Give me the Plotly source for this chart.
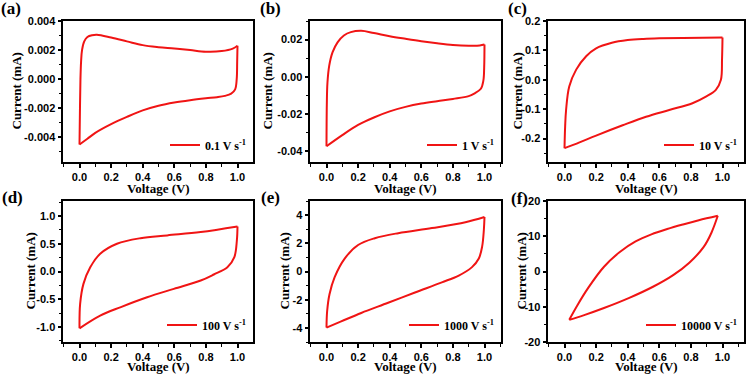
import plotly.graph_objects as go

W, H = 746, 374

# ---------------- data ----------------
rates = ["0.1", "1", "10", "100", "1000", "10000"]
panel_labels = ["(a)", "(b)", "(c)", "(d)", "(e)", "(f)"]
x_title = "Voltage (V)"
y_title = "Current (mA)"

V_a_up = [0.0, 0.003, 0.006, 0.01, 0.016, 0.03, 0.05, 0.08, 0.11, 0.2, 0.3, 0.4, 0.5, 0.6, 0.7, 0.8, 0.9, 0.97, 1.0]
I_a_up = [-0.0045, -0.002, 0.0, 0.0012, 0.002, 0.0026, 0.0029, 0.00302, 0.00305, 0.00286, 0.0026, 0.00234, 0.0022, 0.00211, 0.002, 0.00189, 0.00193, 0.0021, 0.0023]
V_a_dn = [1.0, 0.998, 0.995, 0.985, 0.96, 0.92, 0.87, 0.8, 0.7, 0.6, 0.5, 0.4, 0.3, 0.2, 0.1, 0.05, 0.0]
I_a_dn = [0.0023, 0.0012, 0.0, -0.0007, -0.001, -0.00115, -0.00124, -0.00132, -0.00145, -0.00161, -0.00183, -0.00215, -0.0026, -0.0031, -0.0037, -0.0041, -0.0045]

V_b_up = [0.0, 0.002, 0.006, 0.017, 0.038, 0.07, 0.11, 0.154, 0.22, 0.3, 0.4, 0.5, 0.6, 0.7, 0.8, 0.9, 0.97, 1.0]
I_b_up = [-0.0375, -0.015, -0.0033, 0.0058, 0.0131, 0.0185, 0.0222, 0.024, 0.0247, 0.0235, 0.0218, 0.0204, 0.0191, 0.018, 0.0171, 0.0167, 0.0168, 0.0173]
V_b_dn = [1.0, 0.998, 0.993, 0.977, 0.935, 0.9, 0.8, 0.7, 0.6, 0.5, 0.4, 0.3, 0.2, 0.1, 0.0]
I_b_dn = [0.0173, 0.005, -0.002, -0.0065, -0.0091, -0.0105, -0.012, -0.0132, -0.0145, -0.0163, -0.0187, -0.022, -0.026, -0.0315, -0.0375]

V_c_up = [0.0, 0.004, 0.01, 0.03, 0.074, 0.137, 0.2, 0.3, 0.4, 0.5, 0.6, 0.75, 1.0]
I_c_up = [-0.233, -0.16, -0.103, -0.023, 0.0345, 0.080, 0.107, 0.126, 0.135, 0.139, 0.141, 0.1425, 0.1437]
V_c_dn = [1.0, 0.997, 0.99, 0.958, 0.895, 0.81, 0.663, 0.516, 0.368, 0.2, 0.095, 0.0]
I_c_dn = [0.1437, 0.07, 0.0, -0.0345, -0.0575, -0.08, -0.103, -0.126, -0.155, -0.19, -0.213, -0.233]

V_d_up = [0.0, 0.004, 0.025, 0.068, 0.131, 0.237, 0.386, 0.555, 0.767, 1.0]
I_d_up = [-1.024, -0.584, -0.223, 0.078, 0.32, 0.5, 0.6, 0.65, 0.71, 0.81]
V_d_dn = [1.0, 0.996, 0.98, 0.936, 0.85, 0.767, 0.597, 0.428, 0.258, 0.131, 0.0]
I_d_dn = [0.81, 0.56, 0.26, 0.078, -0.054, -0.163, -0.313, -0.464, -0.645, -0.795, -1.024]

V_e_up = [0.0, 0.004, 0.019, 0.051, 0.115, 0.2, 0.306, 0.454, 0.667, 0.879, 1.0]
I_e_up = [-3.98, -2.82, -1.61, -0.41, 0.92, 1.88, 2.36, 2.72, 3.08, 3.49, 3.86]
V_e_dn = [1.0, 0.996, 0.985, 0.964, 0.921, 0.837, 0.73, 0.56, 0.39, 0.22, 0.093, 0.0]
I_e_dn = [3.86, 2.96, 1.76, 0.92, 0.31, -0.29, -0.77, -1.49, -2.22, -2.94, -3.54, -3.98]

V_f_up = [0.03, 0.08, 0.15, 0.25, 0.35, 0.45, 0.55, 0.65, 0.75, 0.85, 0.97]
I_f_up = [-13.7, -9.7, -4.66, 1.34, 5.54, 8.54, 10.54, 12.04, 13.34, 14.54, 15.8]
V_f_dn = [0.97, 0.93, 0.88, 0.79, 0.69, 0.56, 0.41, 0.25, 0.12, 0.03]
I_f_dn = [15.8, 11.0, 6.9, 2.5, -0.95, -4.33, -7.48, -10.36, -12.44, -13.7]

x_tickvals = [0.0, 0.2, 0.4, 0.6, 0.8, 1.0]
x_ticktext = ["0.0", "0.2", "0.4", "0.6", "0.8", "1.0"]

y_tickvals = [
    [-0.004, -0.002, 0.0, 0.002, 0.004],
    [-0.04, -0.02, 0.0, 0.02],
    [-0.2, -0.1, 0.0, 0.1, 0.2],
    [-1.0, -0.5, 0.0, 0.5, 1.0],
    [-4, -2, 0, 2, 4],
    [-20, -10, 0, 10, 20],
]
y_ticktext = [
    ["-0.004", "-0.002", "0.000", "0.002", "0.004"],
    ["-0.04", "-0.02", "0.00", "0.02"],
    ["-0.2", "-0.1", "0.0", "0.1", "0.2"],
    ["-1.0", "-0.5", "0.0", "0.5", "1.0"],
    ["-4", "-2", "0", "2", "4"],
    ["-20", "-10", "0", "10", "20"],
]
y_ranges = [[-0.0057, 0.004], [-0.046, 0.030], [-0.28, 0.2], [-1.27, 1.27], [-5, 5], [-20, 20]]
y_minor = [0.001, 0.01, 0.05, 0.25, 1, 5]

ups = [(V_a_up, I_a_up), (V_b_up, I_b_up), (V_c_up, I_c_up), (V_d_up, I_d_up), (V_e_up, I_e_up), (V_f_up, I_f_up)]
dns = [(V_a_dn, I_a_dn), (V_b_dn, I_b_dn), (V_c_dn, I_c_dn), (V_d_dn, I_d_dn), (V_e_dn, I_e_dn), (V_f_dn, I_f_dn)]

# ---------------- layout geometry (pixels) ----------------
boxes = [  # left, right, top, bottom, x-pixel of V=0
    (63, 253, 21, 162, 79.5),
    (310, 501, 21, 162, 326.5),
    (548, 744, 21, 162, 564.5),
    (63, 253, 201, 342, 79.5),
    (310, 501, 201, 342, 326.5),
    (548, 744, 201, 342, 564.5),
]
PX_PER_V = 158.0
label_pos = [(11, 9), (270, 9), (517, 9), (12, 197), (270, 197), (519, 198)]
ytitle_x = [16, 267, 517, 30, 284, 521]
xtitle_y = [188, 188, 188, 366, 366, 366]

RED = "#f01414"
serif = "Liberation Serif"
sans = "Liberation Sans"
title_font = dict(family=serif, size=13, color="black", weight="bold")

fig = go.Figure()
layout = dict(
    width=W, height=H,
    margin=dict(l=0, r=0, t=0, b=0, pad=0, autoexpand=False),
    paper_bgcolor="white", plot_bgcolor="white",
    showlegend=True,
)
annotations = []

for i in range(6):
    k = "" if i == 0 else str(i + 1)
    L, R, T, B, x0 = boxes[i]
    xr = [-(x0 - L) / PX_PER_V, (R - x0) / PX_PER_V]
    leg = "legend" + k
    vu, iu = ups[i]
    vd, idn = dns[i]
    fig.add_trace(go.Scatter(
        x=vu, y=iu, mode="lines", line=dict(color=RED, width=2, shape="spline", smoothing=1.0),
        name=rates[i] + " V s<sup>-1</sup>", xaxis="x" + k, yaxis="y" + k, legend=leg, showlegend=True))
    fig.add_trace(go.Scatter(
        x=vd, y=idn, mode="lines", line=dict(color=RED, width=2, shape="spline", smoothing=1.0),
        name=rates[i] + " V s<sup>-1</sup>", xaxis="x" + k, yaxis="y" + k, legend=leg, showlegend=False))

    common = dict(
        showline=True, linecolor="black", linewidth=2, mirror=True,
        ticks="outside", ticklen=3.5, tickwidth=1.5, tickcolor="black",
        showgrid=False, zeroline=False, automargin=False,
        tickfont=dict(family=sans, size=11, color="black", weight="bold"),
    )
    layout["xaxis" + k] = dict(
        common,
        domain=[L / W, R / W], range=xr, anchor="y" + k,
        tickmode="array", tickvals=x_tickvals, ticktext=x_ticktext,
        minor=dict(ticks="outside", ticklen=2.5, tickwidth=1, tickcolor="black", dtick=0.1, tick0=0),
    )
    layout["yaxis" + k] = dict(
        common,
        domain=[1 - B / H, 1 - T / H], range=y_ranges[i], anchor="x" + k,
        tickmode="array", tickvals=y_tickvals[i], ticktext=y_ticktext[i],
        minor=dict(ticks="outside", ticklen=2.5, tickwidth=1, tickcolor="black", dtick=y_minor[i], tick0=0),
    )
    layout[leg] = dict(
        x=(R - 2) / W, y=1 - (B - 17) / H, xanchor="right", yanchor="middle",
        xref="paper", yref="paper",
        bgcolor="rgba(0,0,0,0)", borderwidth=0, itemwidth=30,
        font=dict(family=serif, size=12, color="black", weight="bold"),
        tracegroupgap=0,
    )
    lx, ly = label_pos[i]
    annotations.append(dict(
        text=panel_labels[i], x=lx / W, y=1 - ly / H, xref="paper", yref="paper",
        xanchor="center", yanchor="middle", showarrow=False,
        font=dict(family=serif, size=17, color="black", weight="bold"),
    ))
    # axis titles
    annotations.append(dict(
        text=x_title, x=(L + R) / 2 / W, y=1 - xtitle_y[i] / H, xref="paper", yref="paper",
        xanchor="center", yanchor="middle", showarrow=False, font=title_font,
    ))
    annotations.append(dict(
        text=y_title, x=ytitle_x[i] / W, y=1 - (T + B) / 2 / H, xref="paper", yref="paper",
        xanchor="center", yanchor="middle", showarrow=False, textangle=-90, font=title_font,
    ))

layout["annotations"] = annotations
fig.update_layout(**layout)
fig.write_html(
    "out.html",
    config={"displayModeBar": False},
    post_script="document.body.style.margin='0';document.body.style.padding='0';document.body.style.overflow='hidden';",
)
